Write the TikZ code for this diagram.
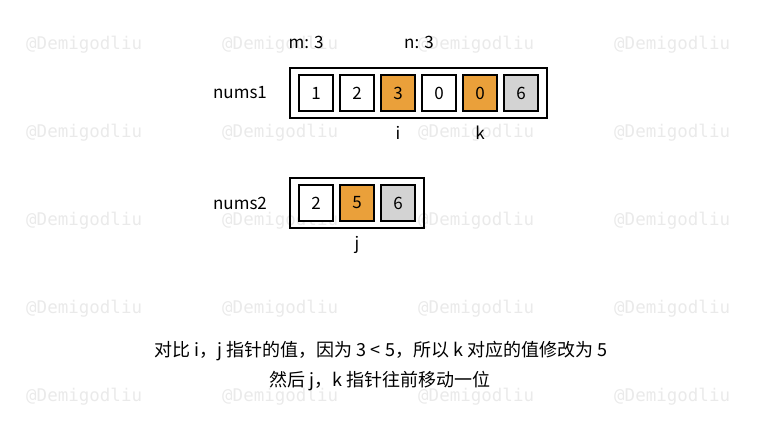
\documentclass[tikz,border=0pt]{standalone}
\usepackage{fontspec}
\setmainfont{Noto Sans CJK SC}
\newfontfamily\markfont{DejaVu Sans Mono}
\usetikzlibrary{positioning, fit}

\definecolor{cellorange}{RGB}{234,160,58}
\definecolor{cellgray}{RGB}{211,211,211}
\definecolor{markgray}{RGB}{234,234,234}

\tikzset{
  cell/.style={draw, line width=1.6pt, minimum width=34pt, minimum height=36pt, inner sep=0pt, font=\fontsize{17}{17}\selectfont},
  frame/.style={draw, line width=1.8pt, inner xsep=8.5pt, inner ysep=6pt},
  tag/.style={font=\fontsize{17}{17}\selectfont},
  caption/.style={font=\fontsize{18}{18}\selectfont},
  wmark/.style={text=markgray, font=\markfont\fontsize{17.5}{17.5}\selectfont, anchor=west, inner sep=0pt}
}

\begin{document}
\begin{tikzpicture}[x=1pt, y=1pt]
    \useasboundingbox (0,0) rectangle (760,440);
    % Draw the watermarks
    \foreach \col in {0,...,3}
      \foreach \row in {0,...,4}
        \node[wmark] (wm-\col-\row) at (26+196*\col, 395-88*\row) {@Demigodliu};
    % Draw nums1
    \foreach \v/\c [count=\i] in {1/white, 2/white, 3/cellorange, 0/white, 0/cellorange, 6/cellgray}
      \node[cell, fill=\c] (a\i) at (275+41*\i, 347) {\v};
    \node[frame, fit=(a1) (a6)] (box1) {};
    \node[tag] (name1) at (240, 347) {nums1};
    \node[tag] (mlen) at (306, 398) {m: 3};
    \node[tag] (nlen) at (419, 398) {n: 3};
    \node[tag, below=11pt of a3] (iptr) {i};
    \node[tag, below=11pt of a5] (kptr) {k};
    % Draw nums2
    \foreach \v/\c [count=\i] in {2/white, 5/cellorange, 6/cellgray}
      \node[cell, fill=\c] (b\i) at (275+41*\i, 237) {\v};
    \node[frame, fit=(b1) (b3)] (box2) {};
    \node[tag] (name2) at (240, 237) {nums2};
    \node[tag, below=11pt of b2] (jptr) {j};
    % Draw the caption
    \node[caption] (line1) at (381, 89) {对比 i，j 指针的值，因为 3 < 5，所以 k 对应的值修改为 5};
    \node[caption] (line2) at (380, 59) {然后 j，k 指针往前移动一位};
  \end{tikzpicture}
\end{document}
